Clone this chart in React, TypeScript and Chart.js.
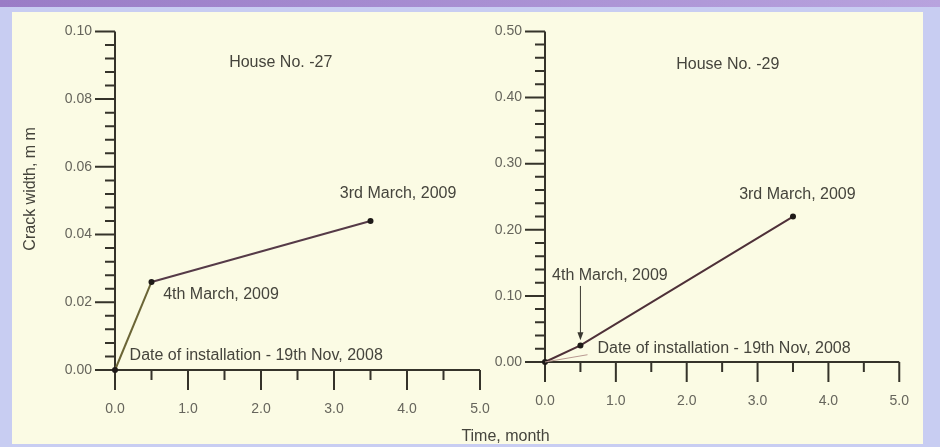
import React, { useEffect, useRef } from 'react';
import { Chart, registerables } from 'chart.js';

Chart.register(...registerables);

// ---- data ----
const monthsHouse27 = [0, 0.5, 3.5];
const crackHouse27 = [0, 0.026, 0.044];
const monthsHouse29 = [0, 0.5, 3.5];
const crackHouse29 = [0, 0.025, 0.22];

const pointLabels = ['Date of installation - 19th Nov, 2008', '4th March, 2009', '3rd March, 2009'];
const houseTitles = ['House No. -27', 'House No. -29'];
const yAxisTitle = 'Crack width, m m';
const xAxisTitle = 'Time, month';

const xMax = 5;
const xMajorStep = 1;
const xMinorStep = 0.5;
const yMax27 = 0.1;
const yMajor27 = 0.02;
const yMinor27 = 0.004;
const yMax29 = 0.5;
const yMajor29 = 0.1;
const yMinor29 = 0.02;

const FONT = '"Liberation Sans", Arial, Helvetica, sans-serif';
const AXIS_COLOR = '#35332a';
const TEXT_COLOR = '#45443c';
const TICK_COLOR = '#66655c';

const handAxes = {
  id: 'handAxes',
  beforeDatasetsDraw(chart: any, _args: any, opts: any) {
    const { ctx, chartArea, scales } = chart;
    const { left, right, top, bottom } = chartArea;
    const x = scales.x;
    const y = scales.y;
    const majLen = opts.majorLen;
    const minLen = opts.minorLen;
    ctx.save();
    ctx.strokeStyle = AXIS_COLOR;
    ctx.lineWidth = 2;
    ctx.beginPath();
    ctx.moveTo(left, top);
    ctx.lineTo(left, bottom + majLen);
    ctx.moveTo(left - majLen, bottom);
    ctx.lineTo(right, bottom);
    const ny = Math.round(y.max / opts.yMinor);
    const yRatio = Math.round(opts.yMajor / opts.yMinor);
    for (let i = 1; i <= ny; i++) {
      const py = y.getPixelForValue(i * opts.yMinor);
      const len = i % yRatio === 0 ? majLen : minLen;
      ctx.moveTo(left - len, py);
      ctx.lineTo(left, py);
    }
    const nx = Math.round(x.max / opts.xMinor);
    const xRatio = Math.round(opts.xMajor / opts.xMinor);
    for (let i = 1; i <= nx; i++) {
      const px = x.getPixelForValue(i * opts.xMinor);
      const len = i % xRatio === 0 ? majLen : minLen;
      ctx.moveTo(px, bottom);
      ctx.lineTo(px, bottom + len);
    }
    ctx.stroke();
    ctx.restore();
  },
};

const annotations = {
  id: 'annot',
  afterDatasetsDraw(chart: any, _args: any, opts: any) {
    const { ctx, scales } = chart;
    const x = scales.x;
    const y = scales.y;
    ctx.save();
    (opts.leaders || []).forEach((l: any) => {
      ctx.strokeStyle = l.color;
      ctx.lineWidth = 1;
      ctx.beginPath();
      ctx.moveTo(x.getPixelForValue(l.x0), y.getPixelForValue(l.y0));
      ctx.lineTo(x.getPixelForValue(l.x1), y.getPixelForValue(l.y1));
      ctx.stroke();
    });
    (opts.arrows || []).forEach((a: any) => {
      const px = x.getPixelForValue(a.x);
      const p0 = y.getPixelForValue(a.y0);
      const p1 = y.getPixelForValue(a.y1);
      ctx.strokeStyle = '#3a3830';
      ctx.fillStyle = '#3a3830';
      ctx.lineWidth = 1;
      ctx.beginPath();
      ctx.moveTo(px, p0);
      ctx.lineTo(px, p1 - 6);
      ctx.stroke();
      ctx.beginPath();
      ctx.moveTo(px, p1);
      ctx.lineTo(px - 3, p1 - 8);
      ctx.lineTo(px + 3, p1 - 8);
      ctx.closePath();
      ctx.fill();
    });
    ctx.fillStyle = TEXT_COLOR;
    ctx.font = `16px ${FONT}`;
    ctx.textBaseline = 'middle';
    (opts.items || []).forEach((it: any) => {
      ctx.textAlign = it.align || 'left';
      ctx.fillText(it.text, x.getPixelForValue(it.x), y.getPixelForValue(it.y));
    });
    if (opts.sharedTitle) {
      ctx.textAlign = 'center';
      ctx.fillText(opts.sharedTitle.text, x.getPixelForValue(opts.sharedTitle.x), chart.height - opts.sharedTitle.fromBottom);
    }
    if (opts.rotTitle) {
      ctx.save();
      ctx.translate(x.getPixelForValue(opts.rotTitle.x), y.getPixelForValue(opts.rotTitle.y));
      ctx.rotate(-Math.PI / 2);
      ctx.textAlign = 'center';
      ctx.fillText(opts.rotTitle.text, 0, 0);
      ctx.restore();
    }
    ctx.restore();
  },
};

function makeConfig(
  months: number[],
  crack: number[],
  yMax: number,
  yMajor: number,
  yMinor: number,
  yWidth: number,
  xHeight: number,
  padding: any,
  segColors: string[],
  annot: any
): any {
  return {
    type: 'line',
    data: {
      datasets: [
        {
          data: months.map((m, i) => ({ x: m, y: crack[i] })),
          borderWidth: 2,
          borderColor: segColors[segColors.length - 1],
          segment: {
            borderColor: (c: any) => segColors[Math.min(c.p0DataIndex, segColors.length - 1)],
          },
          pointRadius: 3,
          pointBackgroundColor: '#1e1a18',
          pointBorderColor: '#1e1a18',
          pointBorderWidth: 0,
          tension: 0,
          clip: false,
        },
      ],
    },
    options: {
      responsive: false,
      animation: false,
      devicePixelRatio: 1,
      layout: { padding },
      events: [],
      plugins: {
        legend: { display: false },
        tooltip: { enabled: false },
        handAxes: { majorLen: 20, minorLen: 10, yMajor, yMinor, xMajor: xMajorStep, xMinor: xMinorStep },
        annot,
      },
      scales: {
        x: {
          type: 'linear',
          min: 0,
          max: xMax,
          grid: { display: false, drawTicks: false },
          border: { display: false },
          ticks: {
            stepSize: xMajorStep,
            padding: 31,
            color: TICK_COLOR,
            font: { family: FONT, size: 14 },
            maxRotation: 0,
            callback: (v: any) => Number(v).toFixed(1),
          },
          afterFit: (s: any) => {
            s.height = xHeight;
          },
        },
        y: {
          type: 'linear',
          min: 0,
          max: yMax,
          grid: { display: false, drawTicks: false },
          border: { display: false },
          ticks: {
            stepSize: yMajor,
            padding: 23,
            color: TICK_COLOR,
            font: { family: FONT, size: 14 },
            callback: (v: any) => Number(v).toFixed(2),
          },
          afterFit: (s: any) => {
            s.width = yWidth;
          },
        },
      },
    },
    plugins: [handAxes, annotations],
  };
}

export default function App() {
  const leftRef = useRef<HTMLCanvasElement>(null);
  const rightRef = useRef<HTMLCanvasElement>(null);

  useEffect(() => {
    const left = new Chart(
      leftRef.current as HTMLCanvasElement,
      makeConfig(
        monthsHouse27,
        crackHouse27,
        yMax27,
        yMajor27,
        yMinor27,
        115,
        77,
        { left: 0, top: 25, right: 460, bottom: 0 },
        ['#6b6536', '#553a47'],
        {
          items: [
            { text: houseTitles[0], x: 2.27, y: 0.0907, align: 'center' },
            { text: pointLabels[2], x: 3.08, y: 0.0522, align: 'left' },
            { text: pointLabels[1], x: 0.66, y: 0.0223, align: 'left' },
            { text: pointLabels[0], x: 0.2, y: 0.0043, align: 'left' },
          ],
          sharedTitle: { text: xAxisTitle, x: 5.35, fromBottom: 10 },
          rotTitle: { text: yAxisTitle, x: -1.15, y: 0.0535 },
        }
      )
    );
    const right = new Chart(
      rightRef.current as HTMLCanvasElement,
      makeConfig(
        monthsHouse29,
        crackHouse29,
        yMax29,
        yMajor29,
        yMinor29,
        545,
        85,
        { left: 0, top: 22, right: 35, bottom: 0 },
        ['#4e3038'],
        {
          items: [
            { text: houseTitles[1], x: 2.58, y: 0.45, align: 'center' },
            { text: pointLabels[2], x: 2.74, y: 0.253, align: 'left' },
            { text: pointLabels[1], x: 0.1, y: 0.131, align: 'left' },
            { text: pointLabels[0], x: 0.74, y: 0.02, align: 'left' },
          ],
          arrows: [{ x: 0.5, y0: 0.115, y1: 0.033 }],
          leaders: [{ x0: 0, y0: 0, x1: 0.6, y1: 0.011, color: '#b89890' }],
        }
      )
    );
    return () => {
      left.destroy();
      right.destroy();
    };
  }, []);

  return (
    <div
      style={{
        position: 'absolute',
        left: 0,
        top: 0,
        width: 940,
        height: 447,
        overflow: 'hidden',
        background: '#c8cdf2',
      }}
    >
      <div
        style={{
          position: 'absolute',
          left: 0,
          top: 0,
          width: 940,
          height: 7,
          background: 'linear-gradient(90deg, #9a7cc6 0%, #a58bd0 40%, #b8a3de 100%)',
        }}
      />
      <div
        style={{
          position: 'absolute',
          left: 12,
          top: 12,
          width: 911,
          height: 432,
          background: '#fbfbe4',
        }}
      />
      <canvas ref={leftRef} width={940} height={447} style={{ position: 'absolute', left: 0, top: 0 }} />
      <canvas ref={rightRef} width={940} height={447} style={{ position: 'absolute', left: 0, top: 0 }} />
    </div>
  );
}
